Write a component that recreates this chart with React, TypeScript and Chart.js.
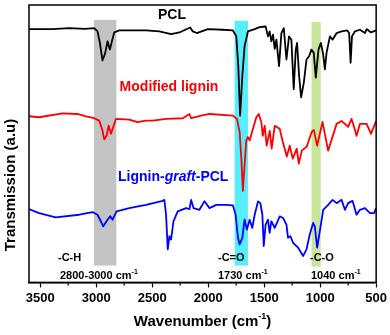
import React, { useEffect, useRef } from "react";
import { Chart, registerables } from "chart.js";

Chart.register(...registerables);

const FONT = "'Liberation Sans', Arial, sans-serif";

// PCL (black)
const pclWavenumber = [3600, 3391, 3242, 3100, 3018, 2988, 2967, 2944, 2919, 2899, 2878, 2860, 2839, 2794, 2555, 2436, 2331, 2257, 2161, 2137, 2101, 2003, 1869, 1779, 1749, 1731, 1715, 1695, 1675, 1645, 1585, 1540, 1487, 1466, 1451, 1436, 1421, 1406, 1391, 1367, 1346, 1325, 1301, 1278, 1257, 1236, 1218, 1206, 1188, 1170, 1146, 1122, 1099, 1078, 1057, 1039, 1015, 994, 973, 958, 943, 913, 889, 853, 809, 759, 741, 728, 716, 690, 645, 600, 585, 546, 500];
const pclTransmission = [255.7, 255.7, 256.7, 256, 256.7, 253.3, 241.7, 224, 231.7, 243.3, 235, 243.3, 252.3, 254.3, 254.3, 253.3, 250.7, 252.3, 257.3, 253.3, 251.7, 255.7, 255, 254.3, 248.3, 218.3, 168.3, 208.3, 238.3, 253.3, 255.7, 257.7, 258.3, 248.3, 253.3, 243.3, 250, 235.7, 245, 218.3, 251.7, 256.7, 225, 248.3, 245, 195, 235, 241.7, 208.3, 186.7, 201.7, 225, 228.3, 235, 231.7, 206.7, 235, 241.7, 230, 215, 231.7, 248.3, 245, 251.7, 253.3, 254.3, 251.7, 221.7, 248.3, 253.3, 255, 251.7, 255.7, 252.3, 254.3];

// Modified lignin (red)
const ligninWavenumber = [3600, 3510, 3302, 3167, 3092, 3018, 2973, 2944, 2928, 2907, 2889, 2868, 2848, 2824, 2705, 2630, 2555, 2496, 2376, 2227, 2167, 2152, 2062, 1988, 1779, 1743, 1719, 1704, 1690, 1675, 1660, 1645, 1630, 1600, 1570, 1549, 1525, 1513, 1495, 1478, 1450, 1433, 1406, 1361, 1334, 1298, 1272, 1245, 1209, 1191, 1164, 1120, 1075, 1057, 1027, 979, 929, 853, 809, 750, 720, 700, 675, 645, 585, 546, 500];
const ligninTransmission = [167.7, 166.7, 170.7, 170, 167.7, 165.7, 163.3, 153.3, 144.3, 148.3, 158.3, 150, 156.7, 165, 164.3, 161.7, 163.3, 163.3, 165, 165.7, 170, 165.7, 168.3, 170, 168.3, 165, 151.7, 125, 92.3, 118.3, 143.3, 146.7, 143.3, 155, 166.7, 170, 161.7, 148, 158, 138, 153, 135, 158, 155, 142, 127, 138, 125, 135, 120, 133, 137, 152, 154, 138, 162, 133, 160, 163, 157, 165, 158, 148, 160, 160, 150, 163];

// Lignin-graft-PCL (blue)
const graftWavenumber = [3600, 3510, 3361, 3152, 3033, 2988, 2937, 2899, 2875, 2854, 2818, 2705, 2555, 2406, 2391, 2376, 2361, 2346, 2331, 2310, 2272, 2197, 2167, 2152, 2131, 2078, 2033, 1988, 1928, 1839, 1779, 1755, 1734, 1719, 1695, 1675, 1654, 1630, 1606, 1585, 1555, 1534, 1516, 1504, 1487, 1466, 1451, 1436, 1406, 1361, 1331, 1301, 1287, 1266, 1242, 1197, 1152, 1122, 1093, 1063, 1048, 1027, 1003, 973, 929, 889, 853, 809, 779, 750, 711, 675, 645, 600, 555, 519, 500];
const graftTransmission = [74, 70, 65.7, 68.3, 71, 68.3, 56.7, 63.3, 66.7, 63.3, 71.7, 75, 78.3, 82.3, 83.3, 68.3, 33.3, 46.7, 43.3, 61.7, 71.7, 75, 74, 83.3, 75, 73.3, 82, 75, 78.3, 78.3, 77.7, 68.3, 45, 38.3, 45, 63.3, 53.3, 63.3, 55, 68.3, 81.7, 80, 68.3, 36.7, 58.3, 63.3, 50, 61.7, 55, 66.7, 65, 58.3, 45, 46.7, 40, 35, 26.7, 33.3, 48.3, 60, 56.7, 35, 51.7, 73.3, 78.3, 83.3, 80, 83.3, 73.3, 80, 82.3, 68.3, 73.3, 75, 70, 70, 75];

// Highlighted bands
const bandStart = [3020, 1764, 1077];
const bandEnd = [2820, 1645, 995];
const bandTop = [265, 264, 263];
const bandBottom = [17, 17, 16];
const bandColors = ["#c3c3c3", "#55eeff", "#c8e69b"];

function drawWithSup(ctx: CanvasRenderingContext2D, base: string, sup: string, tail: string, x: number, y: number, size: number, align: "left" | "center") {
  const bf = `bold ${size}px ${FONT}`;
  const sf = `bold ${Math.round(size * 0.6)}px ${FONT}`;
  ctx.font = bf;
  const wb = ctx.measureText(base).width;
  const wt = ctx.measureText(tail).width;
  ctx.font = sf;
  const ws = ctx.measureText(sup).width;
  const total = wb + ws + wt;
  let sx = align === "center" ? x - total / 2 : x;
  ctx.textAlign = "left";
  ctx.textBaseline = "middle";
  ctx.font = bf;
  ctx.fillText(base, sx, y);
  sx += wb;
  ctx.font = sf;
  ctx.fillText(sup, sx, y - size * 0.35);
  sx += ws;
  ctx.font = bf;
  ctx.fillText(tail, sx, y);
}

export default function App() {
  const ref = useRef<HTMLCanvasElement>(null);

  useEffect(() => {
    document.body.style.margin = "0";
    const canvas = ref.current!;
    const toPts = (xs: number[], ys: number[]) => xs.map((x, i) => ({ x, y: ys[i] }));

    const bandsPlugin = {
      id: "bands",
      beforeDatasetsDraw(chart: any) {
        const { ctx } = chart;
        const xs = chart.scales.x;
        const ys = chart.scales.y;
        ctx.save();
        bandStart.forEach((s, i) => {
          const x1 = xs.getPixelForValue(s);
          const x2 = xs.getPixelForValue(bandEnd[i]);
          const y1 = ys.getPixelForValue(bandTop[i]);
          const y2 = ys.getPixelForValue(bandBottom[i]);
          ctx.fillStyle = bandColors[i];
          ctx.fillRect(Math.min(x1, x2), y1, Math.abs(x2 - x1), y2 - y1);
        });
        ctx.restore();
      },
    };

    const decorPlugin = {
      id: "decor",
      afterDraw(chart: any) {
        const { ctx, chartArea: a } = chart;
        const xs = chart.scales.x;
        ctx.save();
        // frame
        ctx.strokeStyle = "#000";
        ctx.lineWidth = 1.5;
        ctx.strokeRect(a.left, a.top, a.right - a.left, a.bottom - a.top);
        // minor ticks
        ctx.lineWidth = 1.2;
        xs.ticks.forEach((t: any) => {
          if (t.value % 500 !== 0) {
            const px = xs.getPixelForValue(t.value);
            ctx.beginPath();
            ctx.moveTo(px, a.bottom);
            ctx.lineTo(px, a.bottom + 3);
            ctx.stroke();
          }
        });
        // series labels
        ctx.textBaseline = "middle";
        ctx.textAlign = "center";
        ctx.fillStyle = "#000";
        ctx.font = `bold 14px ${FONT}`;
        ctx.fillText("PCL", 172, 15);
        ctx.fillStyle = "#ff0000";
        ctx.font = `bold 14px ${FONT}`;
        ctx.fillText("Modified lignin", 169, 87);
        // Lignin-graft-PCL
        ctx.fillStyle = "#0000ff";
        ctx.textAlign = "left";
        let lx = 118;
        const parts: [string, string][] = [
          ["Lignin-", `bold 14px ${FONT}`],
          ["graft", `italic bold 14px ${FONT}`],
          ["-PCL", `bold 14px ${FONT}`],
        ];
        parts.forEach(([s, f]) => {
          ctx.font = f;
          ctx.fillText(s, lx, 177);
          lx += ctx.measureText(s).width;
        });
        // band labels
        ctx.fillStyle = "#000";
        ctx.font = `bold 11px ${FONT}`;
        ctx.fillText("-C-H", 58, 258);
        ctx.fillText("-C=O", 218, 258);
        ctx.fillText("-C-O", 310, 258);
        drawWithSup(ctx, "2800-3000 cm", "-1", "", 60, 276, 11, "left");
        drawWithSup(ctx, "1730 cm", "-1", "", 218, 276, 11, "left");
        drawWithSup(ctx, "1040 cm", "-1", "", 311, 276, 11, "left");
        // axis titles
        drawWithSup(ctx, "Wavenumber (cm", "-1", ")", (a.left + a.right) / 2, 322, 15, "center");
        ctx.translate(11, 185);
        ctx.rotate(-Math.PI / 2);
        ctx.textAlign = "center";
        ctx.font = `bold 15px ${FONT}`;
        ctx.fillText("Transmission (a.u)", 0, 0);
        ctx.restore();
      },
    };

    const chart = new Chart(canvas, {
      type: "line",
      data: {
        datasets: [
          { label: "PCL", data: toPts(pclWavenumber, pclTransmission), borderColor: "#000000" },
          { label: "Modified lignin", data: toPts(ligninWavenumber, ligninTransmission), borderColor: "#ff0000" },
          { label: "Lignin-graft-PCL", data: toPts(graftWavenumber, graftTransmission), borderColor: "#0000ff" },
        ].map((d) => ({ ...d, borderWidth: 1.8, pointRadius: 0, tension: 0, fill: false, borderJoinStyle: "round" as const })),
      },
      options: {
        responsive: false,
        animation: false,
        layout: { padding: { left: 29, right: 13, top: 5, bottom: 26 } },
        plugins: { legend: { display: false }, tooltip: { enabled: false } },
        scales: {
          x: {
            type: "linear",
            reverse: true,
            min: 500,
            max: 3600,
            ticks: {
              stepSize: 250,
              autoSkip: false,
              maxRotation: 0,
              includeBounds: false,
              padding: 3,
              color: "#000",
              font: { family: FONT, size: 13, weight: "bold" },
              callback: (v: any) => (Number(v) % 500 === 0 ? String(v) : ""),
            },
            grid: {
              drawOnChartArea: false,
              tickLength: 5,
              tickWidth: 1.2,
              tickColor: (c: any) => (c.tick && c.tick.value % 500 === 0 ? "#000" : "rgba(0,0,0,0)"),
            },
            border: { color: "#000", width: 1.5 },
          },
          y: { display: false, min: 0, max: 280 },
        },
      },
      plugins: [bandsPlugin, decorPlugin],
    });

    return () => chart.destroy();
  }, []);

  return <canvas ref={ref} width={390} height={335} style={{ display: "block" }} />;
}
